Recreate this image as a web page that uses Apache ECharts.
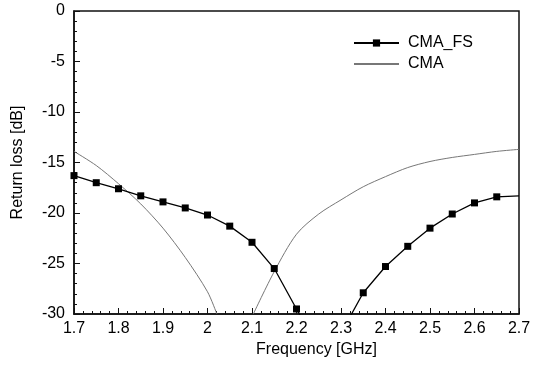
<!DOCTYPE html>
<html>
<head>
<meta charset="utf-8">
<script src="https://cdn.jsdelivr.net/npm/echarts@6/dist/echarts.min.js"></script>
<style>
  html, body { margin: 0; padding: 0; background: #fff; }
  #chart { width: 543px; height: 368px; }
</style>
</head>
<body>
<div id="chart"></div>
<script>
// Return loss of the two antenna variants versus frequency
const fsFreq = [1.70, 1.75, 1.80, 1.85, 1.90, 1.95, 2.00, 2.05, 2.10, 2.15, 2.20, 2.25, 2.30, 2.35, 2.40, 2.45, 2.50, 2.55, 2.60, 2.65, 2.70];
const fsLoss = [-16.3, -17.0, -17.6, -18.3, -18.9, -19.5, -20.2, -21.3, -22.9, -25.5, -29.5, -33.5, -31.9, -27.9, -25.3, -23.3, -21.5, -20.1, -19.0, -18.4, -18.3];

// CMA: null marks the stretch where the curve dips below the axis range
const cmaFreq = [1.70, 1.75, 1.80, 1.85, 1.90, 1.95, 2.00, 2.021, 2.06, 2.103, 2.15, 2.20, 2.25, 2.30, 2.35, 2.40, 2.45, 2.50, 2.55, 2.60, 2.65, 2.70];
const cmaLoss = [-13.9, -15.3, -17.1, -19.1, -21.5, -24.4, -27.8, -30.0, null, -30.0, -25.8, -22.1, -20.1, -18.7, -17.4, -16.4, -15.5, -14.9, -14.5, -14.2, -13.9, -13.7];

const seriesNames = ['CMA_FS', 'CMA'];

const fsData = fsFreq.map((f, i) => {
  const item = { value: [f, fsLoss[i]] };
  if (i === fsFreq.length - 1) item.symbol = 'none';
  return item;
});
const cmaData = cmaFreq.map((f, i) => [f, cmaLoss[i] === null ? '-' : cmaLoss[i]]);

const font = 'Liberation Sans, Arial, sans-serif';

const chart = echarts.init(document.getElementById('chart'), null, { renderer: 'canvas' });
chart.setOption({
  animation: false,
  backgroundColor: '#fff',
  grid: {
    left: 74, top: 11, right: 24, bottom: 54,
    show: true, borderColor: '#111', borderWidth: 1.5, backgroundColor: 'transparent'
  },
  legend: {
    orient: 'vertical',
    left: 348, top: 30,
    itemWidth: 45, itemHeight: 9, itemGap: 5,
    data: [
      { name: seriesNames[0] },
      { name: seriesNames[1], itemStyle: { opacity: 0 } }
    ],
    textStyle: { fontFamily: font, fontSize: 16, color: '#000', padding: [0, 0, 0, 4] }
  },
  xAxis: {
    type: 'value',
    min: 1.7, max: 2.7, interval: 0.1,
    name: 'Frequency [GHz]',
    nameLocation: 'middle',
    nameGap: 26,
    nameTextStyle: { fontFamily: font, fontSize: 16, color: '#000', padding: [0, 0, 0, 40] },
    axisLine: { show: true, onZero: false, lineStyle: { color: '#111', width: 1.5 } },
    axisTick: { show: true, inside: true, length: 6, lineStyle: { color: '#111', width: 1 } },
    minorTick: { show: true, splitNumber: 5, length: 3, lineStyle: { color: '#111', width: 1 } },
    axisLabel: { fontFamily: font, fontSize: 16, color: '#000', margin: 7 },
    splitLine: { show: false }
  },
  yAxis: {
    type: 'value',
    min: -30, max: 0, interval: 5,
    name: 'Return loss [dB]',
    nameLocation: 'middle',
    nameGap: 48,
    nameTextStyle: { fontFamily: font, fontSize: 16, color: '#000' },
    axisLine: { show: true, onZero: false, lineStyle: { color: '#111', width: 1.5 } },
    axisTick: { show: true, inside: true, length: 6, lineStyle: { color: '#111', width: 1 } },
    minorTick: { show: true, splitNumber: 5, length: 3, lineStyle: { color: '#111', width: 1 } },
    axisLabel: { fontFamily: font, fontSize: 16, color: '#000', margin: 9 },
    splitLine: { show: false }
  },
  series: [
    {
      name: seriesNames[0],
      type: 'line',
      data: fsData,
      clip: true,
      symbol: 'rect',
      symbolSize: 7,
      showAllSymbol: true,
      itemStyle: { color: '#000' },
      lineStyle: { color: '#000', width: 1.3 },
      z: 3
    },
    {
      name: seriesNames[1],
      type: 'line',
      data: cmaData,
      clip: true,
      smooth: 0.3,
      connectNulls: false,
      symbol: 'none',
      itemStyle: { color: '#777' },
      lineStyle: { color: '#777', width: 1 },
      z: 2
    }
  ]
});
</script>
</body>
</html>
